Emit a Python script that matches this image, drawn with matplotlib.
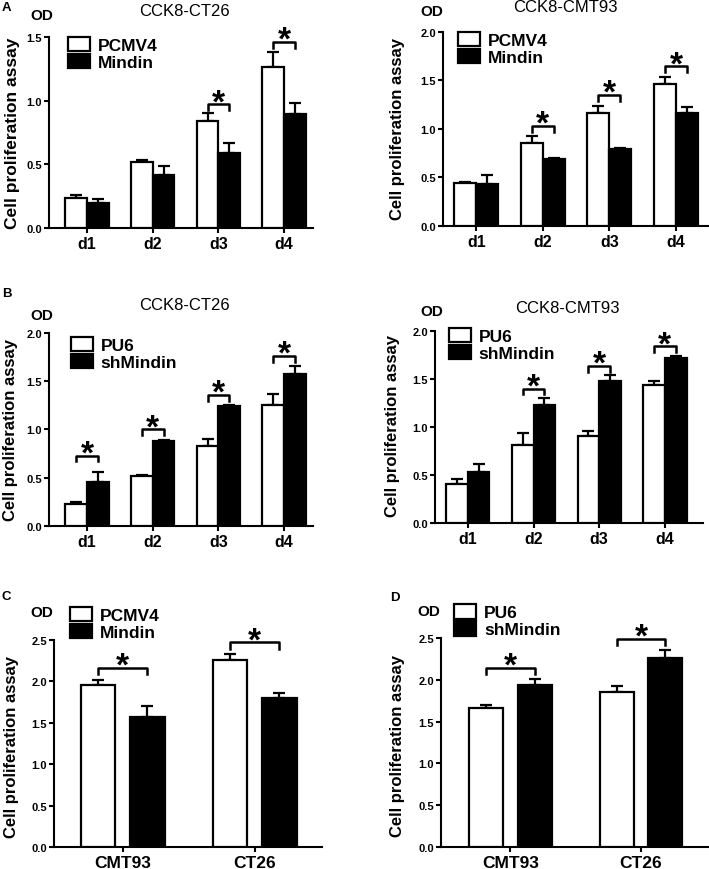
import matplotlib
matplotlib.use("Agg")
import matplotlib.pyplot as plt
import numpy as np

plt.rcParams['font.family'] = ['Liberation Sans', 'DejaVu Sans']

# The data
days = ['d1', 'd2', 'd3', 'd4']
cells = ['CMT93', 'CT26']

# A, CCK8-CT26
a_ct26_pcmv4 = [0.235, 0.517, 0.837, 1.268]
a_ct26_pcmv4_err = [0.021, 0.015, 0.068, 0.117]
a_ct26_mindin = [0.193, 0.42, 0.592, 0.897]
a_ct26_mindin_err = [0.031, 0.063, 0.073, 0.081]
a_ct26_sig = [None, None, 0.97, 1.46]

# A, CCK8-CMT93
a_cmt93_pcmv4 = [0.44, 0.852, 1.166, 1.459]
a_cmt93_pcmv4_err = [0.015, 0.072, 0.075, 0.075]
a_cmt93_mindin = [0.43, 0.69, 0.79, 1.162]
a_cmt93_mindin_err = [0.10, 0.012, 0.015, 0.062]
a_cmt93_sig = [None, 1.03, 1.35, 1.645]

# B, CCK8-CT26
b_ct26_pu6 = [0.232, 0.513, 0.825, 1.258]
b_ct26_pu6_err = [0.021, 0.014, 0.073, 0.108]
b_ct26_sh = [0.457, 0.88, 1.241, 1.57]
b_ct26_sh_err = [0.098, 0.014, 0.017, 0.083]
b_ct26_sig = [0.73, 1.0, 1.36, 1.76]

# B, CCK8-CMT93
b_cmt93_pu6 = [0.41, 0.809, 0.903, 1.434]
b_cmt93_pu6_err = [0.045, 0.125, 0.055, 0.042]
b_cmt93_sh = [0.531, 1.226, 1.479, 1.719]
b_cmt93_sh_err = [0.087, 0.08, 0.066, 0.024]
b_cmt93_sig = [None, 1.40, 1.635, 1.84]

# C
c_pcmv4 = [1.957, 2.255]
c_pcmv4_err = [0.057, 0.076]
c_mindin = [1.567, 1.80]
c_mindin_err = [0.133, 0.057]
c_sig = [2.167, 2.47]

# D
d_pu6 = [1.66, 1.859]
d_pu6_err = [0.04, 0.071]
d_sh = [1.939, 2.261]
d_sh_err = [0.071, 0.10]
d_sig = [2.146, 2.49]


def draw_panel(ax, cats, white, white_err, black, black_err, sig, names,
               ymax, yticks, width, offset, xlim, leg_pos, xfs, ylabel_pos,
               ylabel_fs=12):
    x = np.arange(len(cats))
    b1 = ax.bar(x - offset, white, width, color='white', edgecolor='black',
                linewidth=1.6, zorder=3)
    b2 = ax.bar(x + offset, black, width, color='black', edgecolor='black',
                linewidth=1.6, zorder=3)
    ax.errorbar(x - offset, white, yerr=[np.zeros(len(x)), white_err],
                fmt='none', ecolor='black', elinewidth=1.6, capsize=4.5,
                capthick=1.6, zorder=2)
    ax.errorbar(x + offset, black, yerr=[np.zeros(len(x)), black_err],
                fmt='none', ecolor='black', elinewidth=1.6, capsize=4.5,
                capthick=1.6, zorder=2)

    # significance brackets
    tick = ymax * 0.03
    for xi, yb in zip(x, sig):
        if yb is None:
            continue
        ax.plot([xi - offset, xi - offset, xi + offset, xi + offset],
                [yb - tick, yb, yb, yb - tick], color='black', lw=1.8,
                clip_on=False, zorder=4)
        ax.annotate('*', (xi, yb), xytext=(0, -10), textcoords='offset points',
                    ha='center', va='bottom', fontsize=24, fontweight='bold',
                    annotation_clip=False)

    ax.set_ylim(0, ymax)
    ax.set_xlim(*xlim)
    ax.set_yticks(yticks)
    ax.set_yticklabels(['%.1f' % t for t in yticks], fontweight='bold',
                       fontsize=8)
    ax.set_xticks(x)
    ax.set_xticklabels(cats, fontweight='bold', fontsize=xfs)
    for s in ['top', 'right']:
        ax.spines[s].set_visible(False)
    for s in ['left', 'bottom']:
        ax.spines[s].set_linewidth(1.5)
    ax.tick_params(axis='y', length=3.5, width=1.5, pad=1.5)
    ax.tick_params(axis='x', length=3.5, width=1.5, pad=2)
    ax.set_ylabel('Cell proliferation assay', fontweight='bold',
                  fontsize=ylabel_fs)
    ax.yaxis.set_label_coords(*ylabel_pos)
    ax.legend([b1, b2], names, loc='upper left', bbox_to_anchor=leg_pos,
              frameon=False, borderpad=0, borderaxespad=0, handlelength=1.26,
              handleheight=0.9, handletextpad=0.45, labelspacing=0.05,
              prop=dict(weight='bold', size=12.5))


fig = plt.figure(figsize=(7.09, 8.70), dpi=100)

axA1 = fig.add_axes([0.0691, 0.7368, 0.3724, 0.2195])
axA2 = fig.add_axes([0.6248, 0.7391, 0.3738, 0.2230])
axB1 = fig.add_axes([0.0691, 0.3943, 0.3724, 0.2218])
axB2 = fig.add_axes([0.6135, 0.3977, 0.3780, 0.2207])
axC = fig.add_axes([0.0762, 0.0253, 0.3780, 0.2379])
axD = fig.add_axes([0.6220, 0.0253, 0.3780, 0.2400])

draw_panel(axA1, days, a_ct26_pcmv4, a_ct26_pcmv4_err, a_ct26_mindin,
           a_ct26_mindin_err, a_ct26_sig, ['PCMV4', 'Mindin'],
           1.5, [0, 0.5, 1.0, 1.5], 0.33, 0.165, (-0.58, 3.44),
           (0.072, 1.0), 11.5, (-0.11, 0.5), ylabel_fs=12.5)
draw_panel(axA2, days, a_cmt93_pcmv4, a_cmt93_pcmv4_err, a_cmt93_mindin,
           a_cmt93_mindin_err, a_cmt93_sig, ['PCMV4', 'Mindin'],
           2.0, [0, 0.5, 1.0, 1.5, 2.0], 0.33, 0.165, (-0.5, 3.48),
           (0.057, 1.0), 11.5, (-0.143, 0.503))
draw_panel(axB1, days, b_ct26_pu6, b_ct26_pu6_err, b_ct26_sh,
           b_ct26_sh_err, b_ct26_sig, ['PU6', 'shMindin'],
           2.0, [0, 0.5, 1.0, 1.5, 2.0], 0.33, 0.165, (-0.58, 3.44),
           (0.083, 0.98), 11.5, (-0.118, 0.50))
draw_panel(axB2, days, b_cmt93_pu6, b_cmt93_pu6_err, b_cmt93_sh,
           b_cmt93_sh_err, b_cmt93_sig, ['PU6', 'shMindin'],
           2.0, [0, 0.5, 1.0, 1.5, 2.0], 0.33, 0.165, (-0.5, 3.58),
           (0.052, 1.016), 11.5, (-0.131, 0.508))
draw_panel(axC, cells, c_pcmv4, c_pcmv4_err, c_mindin, c_mindin_err, c_sig,
           ['PCMV4', 'Mindin'], 2.5, [0, 0.5, 1.0, 1.5, 2.0, 2.5],
           0.26, 0.187, (-0.52, 1.51), (0.06, 1.16), 12.5, (-0.13, 0.49))
draw_panel(axD, cells, d_pu6, d_pu6_err, d_sh, d_sh_err, d_sig,
           ['PU6', 'shMindin'], 2.5, [0, 0.5, 1.0, 1.5, 2.0, 2.5],
           0.26, 0.187, (-0.53, 1.52), (0.05, 1.163), 12.5, (-0.134, 0.49))

# panel letters, OD labels and titles
H = 870.0
W = 709.0
for txt, px, py in [('A', 2, 8), ('B', 2, 294), ('C', 2, 597), ('D', 390, 598)]:
    fig.text(px / W, 1 - py / H, txt, fontsize=9.5, fontweight='bold',
             ha='left', va='center')
for px, py in [(42, 16), (432, 12), (42, 316), (432, 312), (42, 613), (429, 612)]:
    fig.text(px / W, 1 - py / H, 'OD', fontsize=11, fontweight='bold',
             ha='center', va='center')
for txt, px, py in [('CCK8-CT26', 184, 12), ('CCK8-CMT93', 565, 8),
                    ('CCK8-CT26', 184, 305), ('CCK8-CMT93', 567, 309)]:
    fig.text(px / W, 1 - py / H, txt, fontsize=12, ha='center', va='center')

fig.savefig('out.png', dpi=100)
